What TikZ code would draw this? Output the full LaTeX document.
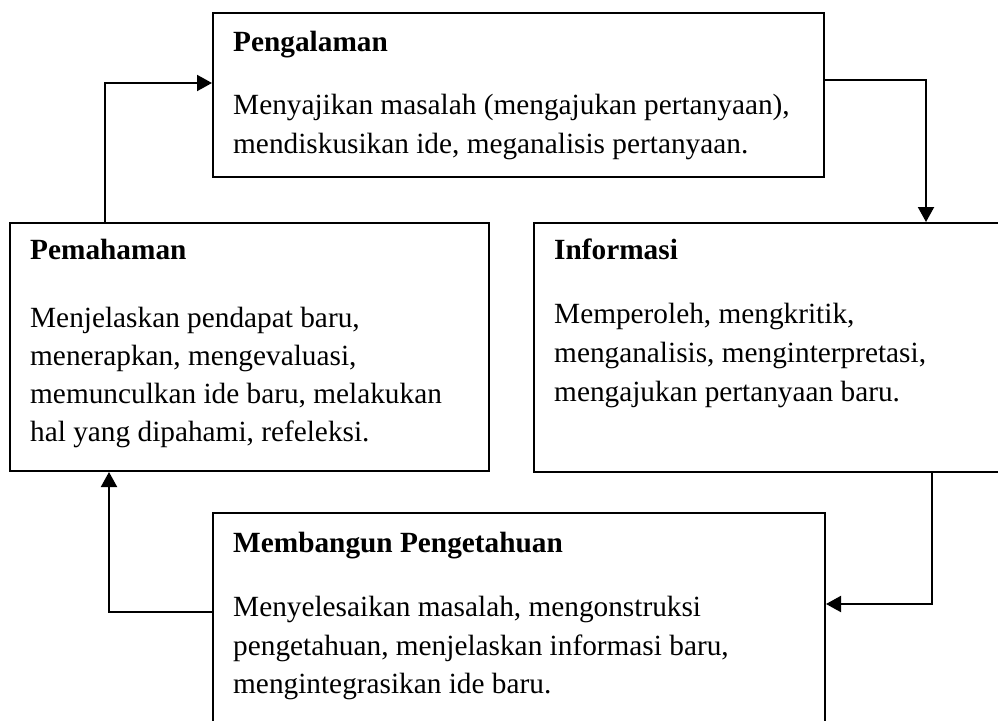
\documentclass[tikz,border=0pt]{standalone}
\usepackage{fontspec}
\setmainfont{Liberation Serif}
\usetikzlibrary{arrows.meta}
\begin{document}
\begin{tikzpicture}[x=1pt,y=-1pt,
  box/.style={draw=black,line width=2pt,inner sep=0pt,anchor=north west},
  ttl/.style={anchor=base west,inner sep=0pt,font=\fontsize{29.3}{35}\selectfont\bfseries},
  txt/.style={anchor=base west,inner sep=0pt,font=\fontsize{29.3}{35}\selectfont},
  conn/.style={line width=2pt,-{Triangle[length=15pt,width=16pt]}}]
\path[use as bounding box,clip] (0,0) rectangle (998,720);
\fill[white] (0,0) rectangle (998,720);
% boxes
\node[box,minimum width=611pt,minimum height=164pt] (peng) at (212,12) {};
\node[box,minimum width=479pt,minimum height=248pt] (pem) at (9,222) {};
\node[box,minimum width=480pt,minimum height=249pt] (inf) at (533,222) {};
\node[box,minimum width=612pt,minimum height=220pt] (mem) at (212,512) {};
% texts
\node[ttl] (t1) at (233,51) {Pengalaman};
\node[txt] (t1a) at (233,114) {Menyajikan masalah (mengajukan pertanyaan),};
\node[txt] (t1b) at (233,153) {mendiskusikan ide, meganalisis pertanyaan.};
\node[ttl] (t2) at (30,259) {Pemahaman};
\node[txt] (t2a) at (30,327) {Menjelaskan pendapat baru,};
\node[txt] (t2b) at (30,365) {menerapkan, mengevaluasi,};
\node[txt] (t2c) at (30,403) {memunculkan ide baru, melakukan};
\node[txt] (t2d) at (30,441) {hal yang dipahami, refeleksi.};
\node[ttl] (t3) at (554,259) {Informasi};
\node[txt] (t3a) at (554,323) {Memperoleh, mengkritik,};
\node[txt] (t3b) at (554,362) {menganalisis, menginterpretasi,};
\node[txt] (t3c) at (554,401) {mengajukan pertanyaan baru.};
\node[ttl] (t4) at (233,552) {Membangun Pengetahuan};
\node[txt] (t4a) at (233,616) {Menyelesaikan masalah, mengonstruksi};
\node[txt] (t4b) at (233,655) {pengetahuan, menjelaskan informasi baru,};
\node[txt] (t4c) at (233,693) {mengintegrasikan ide baru.};
% connectors
\coordinate (c1) at (105,83);
\coordinate (c2) at (926,80);
\coordinate (c3) at (932,604);
\coordinate (c4) at (109,612);
\draw[conn] (pem.north -| c1) |- (peng.west |- c1);
\draw[conn] (peng.east |- c2) -| (inf.north -| c2);
\draw[conn] (inf.south -| c3) |- (mem.east |- c3);
\draw[conn] (mem.west |- c4) -| (pem.south -| c4);
\end{tikzpicture}
\end{document}
